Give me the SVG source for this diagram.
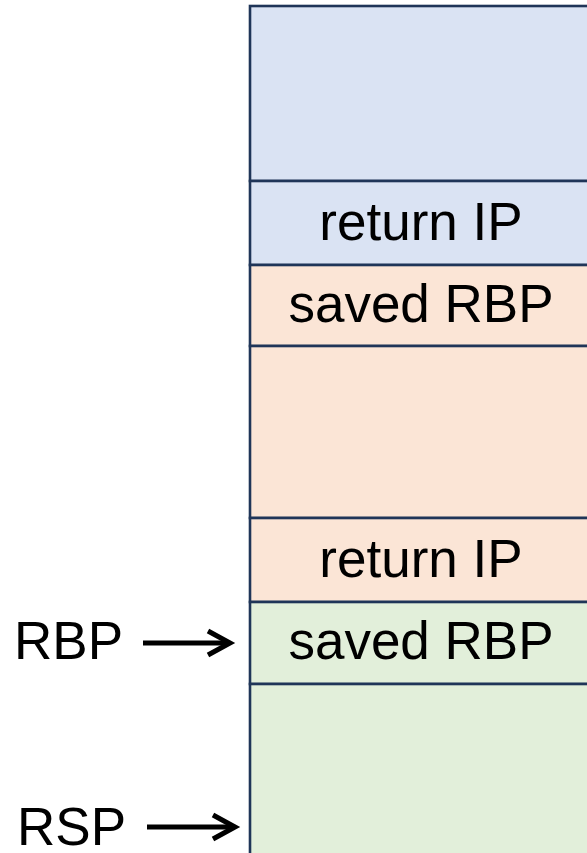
<svg xmlns="http://www.w3.org/2000/svg" width="587" height="853" viewBox="0 0 587 853">
<style>
.cell{stroke:#1f3558;stroke-width:2.6}
.blue{fill:#dae3f3}
.peach{fill:#fbe5d6}
.green{fill:#e2efda}
text{font-family:"Liberation Sans",Arial,Helvetica,sans-serif;font-size:53px;fill:#000}
.c{text-anchor:middle}
.arrow{stroke:#000;stroke-width:5;fill:none;stroke-linecap:butt}
</style>
<g id="frame1-top"><rect class="cell blue" x="250" y="6" width="345" height="175"/></g>
<g id="frame1-retip"><rect class="cell blue" x="250" y="181" width="345" height="84"/><text class="c" x="421" y="240">return IP</text></g>
<g id="frame2-savedrbp"><rect class="cell peach" x="250" y="265" width="345" height="81"/><text class="c" x="421" y="322">saved RBP</text></g>
<g id="frame2-locals"><rect class="cell peach" x="250" y="346" width="345" height="172"/></g>
<g id="frame2-retip"><rect class="cell peach" x="250" y="518" width="345" height="84"/><text class="c" x="421" y="577">return IP</text></g>
<g id="frame3-savedrbp"><rect class="cell green" x="250" y="602" width="345" height="82"/><text class="c" x="421" y="659">saved RBP</text></g>
<g id="frame3-locals"><rect class="cell green" x="250" y="684" width="345" height="180"/></g>
<g id="label-rbp"><text x="14" y="659">RBP</text></g>
<g id="label-rsp"><text x="17" y="845">RSP</text></g>
<g id="connectors">
<path class="arrow" d="M143,643 H229"/>
<path class="arrow" d="M208,631 L230,643 L208,655" stroke-linejoin="miter"/>
<path class="arrow" d="M147,827 H234"/>
<path class="arrow" d="M213,815 L235,827 L213,839" stroke-linejoin="miter"/>
</g>
</svg>
